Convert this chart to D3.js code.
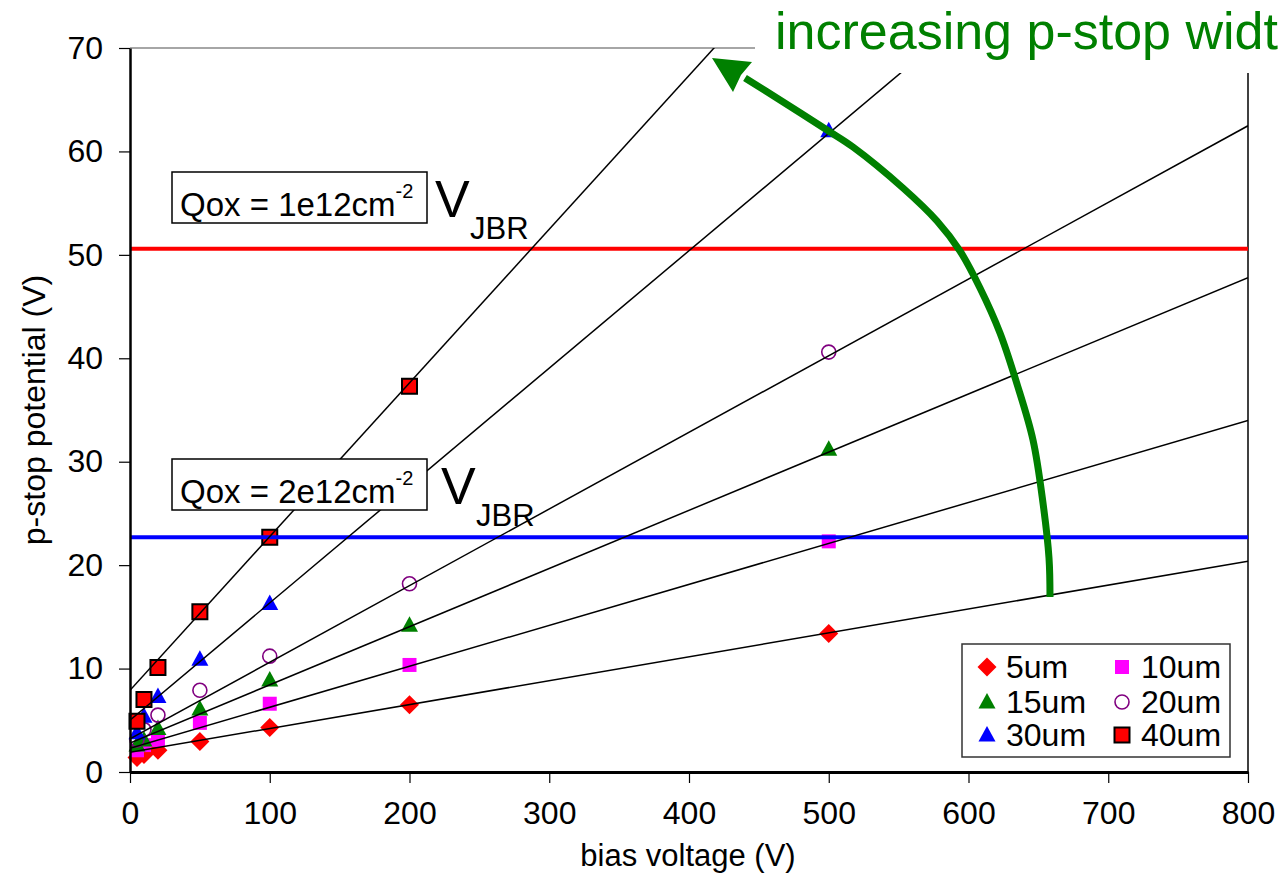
<!DOCTYPE html>
<html>
<head>
<meta charset="utf-8">
<script src="https://cdn.jsdelivr.net/npm/d3@7"></script>
<style>
  body { margin: 0; background: #fff; }
  svg text { font-family: "Liberation Sans", Arial, sans-serif; }
</style>
</head>
<body>
<svg id="chart" width="1278" height="878"></svg>
<script>
// bias voltages where the potential was simulated
const biasVoltages = [5, 10, 20, 50, 100, 200, 500];
const seriesNames = ['5um', '10um', '15um', '20um', '30um', '40um'];
const pot5um = [1.4, 1.7, 2.1, 2.95, 4.3, 6.5, 13.4];
const pot10um = [2.1, 2.6, 3.1, 4.75, 6.6, 10.35, 22.3];
const pot15um = [2.6, 3.1, 4.2, 6.1, 8.9, 14.2, 31.2];
const pot20um = [3.1, 4.1, 5.5, 7.9, 11.2, 18.2, 40.6];
const pot30um = [3.8, 5.4, 7.3, 10.9, 16.3, null, 62.0];
const pot40um = [4.9, 7.0, 10.1, 15.5, 22.7, 37.3, null];
// linear trend lines (value at 0 V and slope per V)
const fitIntercept = [1.9, 2.3, 2.8, 3.2, 5.0, 7.9];
const fitSlope = [0.0231, 0.0396, 0.05625, 0.0741, 0.1135, 0.1486];
// breakdown limits
const vjbrQ1 = 50.6;
const vjbrQ2 = 22.7;
const xTicks = [0, 100, 200, 300, 400, 500, 600, 700, 800];
const yTicks = [0, 10, 20, 30, 40, 50, 60, 70];

const allSeries = [pot5um, pot10um, pot15um, pot20um, pot30um, pot40um];
const fills = ['#ff0000', '#ff00ff', '#008000', 'none', '#0000ff', '#ff0000'];
const strokes = ['none', 'none', 'none', '#800080', 'none', '#000'];
const shapes = ['diamond', 'square', 'triangle', 'circle', 'triangle', 'square2'];

const svg = d3.select('#chart');
const x = d3.scaleLinear().domain([0, 800]).range([130, 1248]);
const y = d3.scaleLinear().domain([0, 70]).range([772, 48]);

function shapePath(s) {
  if (s === 'diamond') return 'M0,-9.5L9.5,0L0,9.5L-9.5,0Z';
  if (s === 'square') return 'M-7,-7H7V7H-7Z';
  if (s === 'square2') return 'M-7.5,-7.5H7.5V7.5H-7.5Z';
  if (s === 'triangle') return 'M0,-9L8.5,6.5L-8.5,6.5Z';
  return d3.arc()({innerRadius: 0, outerRadius: 7, startAngle: 0, endAngle: 2 * Math.PI});
}
function drawMarker(g, i) {
  g.append('path')
    .attr('d', shapePath(shapes[i]))
    .attr('fill', fills[i])
    .attr('stroke', strokes[i])
    .attr('stroke-width', shapes[i] === 'circle' ? 1.6 : 2);
}

svg.append('rect').attr('width', 1278).attr('height', 878).attr('fill', '#fff');

svg.append('defs').append('clipPath').attr('id', 'plotClip')
  .append('rect').attr('x', 130).attr('y', 48).attr('width', 1118).attr('height', 724);

// plot frame (top grey, right black)
svg.append('line').attr('x1', 130).attr('x2', 1248).attr('y1', 48).attr('y2', 48)
  .attr('stroke', '#888').attr('stroke-width', 1.5);
svg.append('line').attr('x1', 1248).attr('x2', 1248).attr('y1', 48).attr('y2', 772)
  .attr('stroke', '#000').attr('stroke-width', 1.5);

// markers
const markers = svg.append('g');
allSeries.forEach((vals, i) => {
  vals.forEach((v, j) => {
    if (v == null) return;
    const g = markers.append('g').attr('transform', `translate(${x(biasVoltages[j])},${y(v)})`);
    drawMarker(g, i);
  });
});

// V_JBR levels
[[vjbrQ1, '#ff0000'], [vjbrQ2, '#0000ff']].forEach(([v, c]) => {
  svg.append('line').attr('x1', x(0)).attr('x2', x(800)).attr('y1', y(v)).attr('y2', y(v))
    .attr('stroke', c).attr('stroke-width', 4);
});

// trend lines
svg.append('g').attr('clip-path', 'url(#plotClip)')
  .selectAll('line').data(seriesNames).join('line')
  .attr('x1', x(0)).attr('y1', (d, i) => y(fitIntercept[i]))
  .attr('x2', x(800)).attr('y2', (d, i) => y(fitIntercept[i] + fitSlope[i] * 800))
  .attr('stroke', '#000').attr('stroke-width', 1.5);

// axes
const yAxis = d3.axisLeft(y).tickValues(yTicks).tickSize(11).tickSizeOuter(0).tickPadding(16);
const gy = svg.append('g').attr('transform', 'translate(130,0)').call(yAxis);
gy.select('.domain').attr('stroke-width', 2.5);
gy.selectAll('.tick line').attr('stroke-width', 1.2);
gy.selectAll('.tick text').style('font-size', '32px').attr('fill', '#000');

const xAxis = d3.axisBottom(x).tickValues(xTicks).tickSize(11).tickSizeOuter(0).tickPadding(18);
const gx = svg.append('g').attr('transform', 'translate(0,772)').call(xAxis);
gx.select('.domain').attr('stroke-width', 3);
gx.selectAll('.tick line').attr('stroke-width', 1.2);
gx.selectAll('.tick text').style('font-size', '32px').attr('fill', '#000');

svg.append('text').attr('x', 688).attr('y', 866).attr('text-anchor', 'middle')
  .style('font-size', '31px').text('bias voltage (V)');
svg.append('text').attr('transform', 'translate(45,410) rotate(-90)').attr('text-anchor', 'middle')
  .style('font-size', '32px').text('p-stop potential (V)');

// Qox annotations
function qoxLabel(top, dose, vx) {
  svg.append('rect').attr('x', 172).attr('y', top).attr('width', 255).attr('height', 51)
    .attr('fill', '#fff').attr('stroke', '#000').attr('stroke-width', 1.5);
  const t = svg.append('text').attr('x', 180).attr('y', top + 44).style('font-size', '33px');
  t.append('tspan').text('Qox = ' + dose + 'cm');
  t.append('tspan').attr('dy', -18).style('font-size', '20px').text('-2');
  svg.append('text').attr('x', vx).attr('y', top + 45).style('font-size', '52px').text('V');
  svg.append('text').attr('x', vx + 35).attr('y', top + 67).style('font-size', '31px').text('JBR');
}
qoxLabel(172, '1e12', 435);
qoxLabel(459, '2e12', 441);

// legend
const legend = svg.append('g');
legend.append('rect').attr('x', 962).attr('y', 644).attr('width', 268).attr('height', 113)
  .attr('fill', '#fff').attr('stroke', '#333').attr('stroke-width', 1.5);
seriesNames.forEach((name, i) => {
  const col = i % 2, row = Math.floor(i / 2);
  const lx = [987, 1122][col], ly = [667, 702, 735][row];
  const g = legend.append('g').attr('transform', `translate(${lx},${ly})`);
  drawMarker(g, i);
  legend.append('text').attr('x', lx + 19).attr('y', ly + 11).style('font-size', '32px').text(name);
});

// curved arrow
const arrowPts = [[1050, 597], [1049, 558], [1043, 503], [1033, 440], [1017, 384], [1000, 333],
  [980, 288], [960, 251], [937, 221], [903, 188], [853, 147], [827, 130], [780, 100], [745, 78]];
svg.append('path').attr('d', d3.line().curve(d3.curveCatmullRom)(arrowPts))
  .attr('fill', 'none').attr('stroke', '#008000').attr('stroke-width', 7);
svg.append('path').attr('d', 'M712,58L752,62L741,75L733,92Z').attr('fill', '#008000');

// title box covering the top-right corner
svg.append('rect').attr('x', 755).attr('y', 0).attr('width', 523).attr('height', 73).attr('fill', '#fff');
svg.append('text').attr('x', 775).attr('y', 49).attr('fill', '#008000')
  .style('font-size', '52px').text('increasing p-stop width');
</script>
</body>
</html>
